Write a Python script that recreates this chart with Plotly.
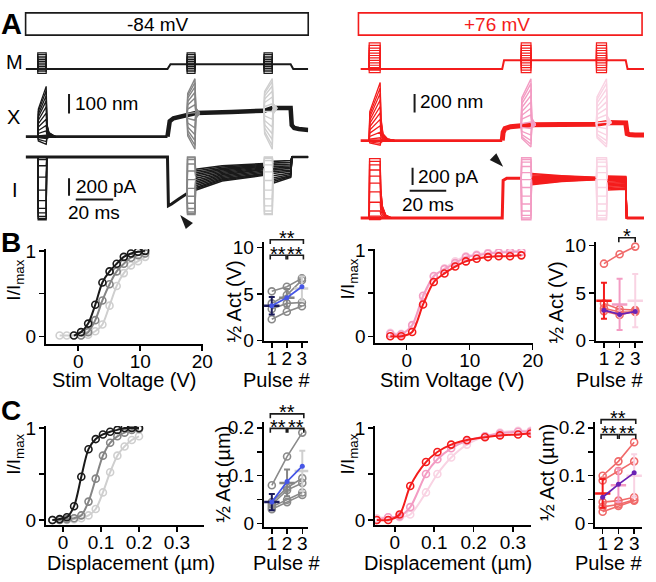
import plotly.graph_objects as go

W, H = 656, 582
def fx(px): return px / W
def fy(py): return 1 - py / H

BLACK = '#1a1a1a'; GRAY = '#858585'; LGRAY = '#cfcfcf'
RED = '#f41c1c'; PINK = '#f39cc3'; LPINK = '#f9d3e3'
BLUE = '#4656e6'; NAVY = '#1c1c5a'; PURPLE = '#6b22b4'; SALMON = '#f06a6a'
CELLGRAY = '#8a8a8a'
FONT = 'Liberation Sans, Arial, sans-serif'

# ================= Panel A data =================
# ---- left (-84 mV) ----
L_win = [(6.5, 11.0), (86.3, 90.5), (127.4, 131.8)]
L_stimV = [-3.0, -1.85, -0.7, 0.45, 1.6, 2.75, 3.9, 5.05, 6.2, 7.35, 8.5, 9.65, 10.8]
L_M_t = [0, 75.8, 77.4, 141.6, 143.0, 151]
L_M_v = [0, 0, 3.2, 3.2, 0, 0]
L_M_level = [0, 3.2, 3.2]

L_X_rest_t = [0, 75.8]
L_X_rest_v = [0, 0]
L_X_step_t = [75.8, 76.3, 77.0, 79.0, 83.0, 86.3, 90.9, 110.0, 127.4, 131.8, 136.0, 141.6, 142.2, 143.5, 146.0, 151.0]
L_X_step_v = [0, 55, 80, 95, 105, 110, 122, 128, 134, 148, 150, 148, 60, 45, 40, 35]
L_X_p1 = [-40, -25, -10, 8, 30, 58, 90, 122, 155, 185, 212, 238, 260]
L_X_p2 = [-65, -45, -20, 10, 45, 85, 125, 165, 200, 230, 258, 280, 300]
L_X_p3 = [-65, -45, -15, 15, 50, 90, 130, 170, 205, 235, 262, 285, 300]
L_X_lv = [(110, 122), (134, 148)]

L_I_t = [0, 75.8, 76.3, 78.0, 82.0, 86.3]
L_I_v = [0, 0, -560, -540, -480, -420]
L_I_p1 = [0, 0, -5, -30, -100, -230, -380, -500, -590, -640, -680, -705, -720]
L_I_p2 = [0, -10, -30, -80, -160, -260, -360, -450, -530, -590, -630, -650, -660]
L_I_p3 = [0, -5, -15, -40, -90, -170, -270, -380, -480, -560, -620, -650, -660]
L_I_f2s = [-140, -160, -180, -200, -220, -245, -270, -290, -310, -330, -350, -365, -380]
L_I_f2m = [-100, -115, -130, -145, -160, -175, -190, -205, -220, -235, -250, -262, -275]
L_I_f2e = [-75, -85, -95, -105, -115, -125, -135, -145, -160, -175, -190, -200, -210]
L_I_f3s = [-50, -70, -90, -110, -130, -150, -170, -190, -215, -240, -260, -280, -300]
L_I_f3e = [-40, -60, -80, -100, -115, -130, -150, -165, -185, -200, -215, -225, -235]

# ---- right (+76 mV) ----
R_win = [(4.8, 10.8), (87.9, 93.2), (129.0, 134.5)]
R_stimV = [-2.6, -0.87, 0.87, 2.6, 4.3, 6.0, 7.7, 9.4, 11.1, 12.9, 14.6, 16.4, 18.2]
R_M_t = [0, 77.5, 78.5, 145, 146, 155]
R_M_v = [0, 0, 6.1, 6.1, 0, 0]
R_M_level = [0, 6.1, 6.1]

R_X_rest_t = [0, 77.5]
R_X_rest_v = [0, 0]
R_X_step_t = [77.5, 78, 79, 82, 87.9, 93.6, 110, 129, 134.9, 140, 145, 145.8, 147, 150, 155]
R_X_step_v = [0, 90, 130, 150, 160, 172, 175, 178, 195, 195, 192, 75, 65, 60, 60]
R_X_p1 = [-50, -30, -10, 30, 90, 160, 230, 300, 370, 440, 510, 570, 630]
R_X_p2 = [-70, -40, 0, 60, 130, 200, 280, 350, 420, 490, 560, 620, 670]
R_X_p3 = [-70, -40, 0, 60, 130, 200, 280, 350, 420, 490, 560, 620, 670]
R_X_lv = [(160, 172), (178, 195)]

R_I_t = [0, 77.5, 78.0, 80.0, 87.9]
R_I_v = [0, 0, 430, 455, 455]
R_I_p1 = [-20, -10, 0, 20, 80, 180, 300, 400, 480, 550, 610, 650, 680]
R_I_p2 = [-20, 0, 30, 80, 160, 250, 350, 440, 520, 590, 640, 670, 690]
R_I_p3 = [-20, 0, 30, 80, 160, 250, 350, 440, 520, 590, 640, 670, 690]
R_I_f2s = [380, 390, 400, 410, 420, 430, 440, 450, 460, 470, 480, 495, 510]
R_I_f2m = [420, 425, 430, 435, 440, 445, 450, 455, 460, 465, 470, 478, 485]
R_I_f2e = [440, 442, 444, 446, 448, 450, 452, 454, 456, 458, 460, 462, 465]
R_I_f3s = [320, 335, 350, 365, 380, 395, 410, 425, 440, 450, 460, 470, 480]
R_I_f3e = [330, 345, 360, 375, 390, 405, 420, 435, 445, 455, 462, 470, 476]

# ================= Panel B data =================
B1_V = [-3.0, -1.85, -0.7, 0.45, 1.6, 2.75, 3.9, 5.05, 6.2, 7.35, 8.5, 9.65, 10.8]
B1_p1 = [None, None, 0.01, 0.05, 0.15, 0.37, 0.63, 0.76, 0.85, 0.93, 0.97, 0.99, 1.0]
B1_p2 = [None, None, None, 0.01, 0.05, 0.19, 0.42, 0.61, 0.76, 0.85, 0.92, 0.95, 0.97]
B1_p3 = [0.01, 0.01, 0.01, 0.01, 0.02, 0.06, 0.14, 0.36, 0.59, 0.74, 0.83, 0.88, 0.93]

PULSE = [1, 2, 3]
B2_cells = [[5.3, 5.8, 6.7], [4.0, 4.9, 6.5], [3.4, 4.0, 4.1], [2.3, 3.1, 3.7]]
B2_mean = [3.75, 4.6, 5.6]
B2_sd = [0.95, 0.95, 1.3]
B2_avg = [3.75, 4.6, 5.8]

B3_V = [-2.6, -0.87, 0.87, 2.6, 4.3, 6.0, 7.7, 9.4, 11.1, 12.9, 14.6, 16.4, 18.2]
B3_p1 = [0.0, 0.0, 0.05, 0.37, 0.63, 0.73, 0.81, 0.87, 0.9, 0.92, 0.93, 0.93, 0.94]
B3_p2 = [0.03, 0.02, 0.13, 0.47, 0.70, 0.78, 0.85, 0.92, 0.94, 0.96, 0.97, 0.98, 0.98]
B3_p3 = [0.04, 0.03, 0.12, 0.45, 0.69, 0.79, 0.87, 0.93, 0.95, 0.97, 0.98, 0.99, 0.99]

B4_cells = [[8.1, 9.1, 9.9], [3.9, 3.3, 3.2], [3.4, 3.0, 3.0], [3.1, 2.7, 3.1]]
B4_mean = [4.2, 3.8, 4.2]
B4_sd = [1.9, 2.7, 2.8]
B4_avg = [3.2, 2.75, 3.05]

# ================= Panel C data =================
C1_D = [-0.028, -0.009, 0.010, 0.029, 0.048, 0.067, 0.086, 0.105, 0.124, 0.143, 0.162, 0.181, 0.200]
C1_p1 = [0.0, 0.01, 0.03, 0.15, 0.47, 0.77, 0.88, 0.93, 0.96, 0.98, 1.0, 1.0, 1.0]
C1_p2 = [0.0, 0.0, 0.01, 0.02, 0.05, 0.2, 0.45, 0.7, 0.84, 0.91, 0.95, 0.98, 0.99]
C1_p3 = [0.0, 0.0, 0.0, 0.01, 0.02, 0.05, 0.12, 0.3, 0.52, 0.7, 0.8, 0.87, 0.91]

C2_cells = [[0.08, 0.14, 0.19], [0.045, 0.075, 0.095], [0.04, 0.07, 0.085], [0.035, 0.05, 0.065], [0.03, 0.045, 0.06]]
C2_mean = [0.045, 0.085, 0.11]
C2_sd = [0.017, 0.028, 0.042]
C2_avg = [0.045, 0.088, 0.12]

C3_D = [-0.046, -0.017, 0.012, 0.039, 0.079, 0.108, 0.143, 0.183, 0.229, 0.267, 0.313, 0.345]
C3_p1 = [0.0, 0.0, 0.06, 0.37, 0.63, 0.74, 0.82, 0.87, 0.9, 0.92, 0.93, 0.94]
C3_p2 = [0.0, 0.03, 0.04, 0.14, 0.5, 0.66, 0.78, 0.86, 0.91, 0.94, 0.96, 0.96]
C3_p3 = [0.02, 0.03, 0.03, 0.06, 0.3, 0.5, 0.68, 0.82, 0.91, 0.95, 0.97, 0.97]

C4_cells = [[0.1, 0.13, 0.17], [0.09, 0.11, 0.13], [0.045, 0.048, 0.055], [0.035, 0.04, 0.05], [0.025, 0.037, 0.048]]
C4_mean = [0.063, 0.08, 0.1]
C4_sd = [0.03, 0.035, 0.045]
C4_avg = [0.055, 0.082, 0.106]

# ================= figure =================
fig = go.Figure()
layout = dict(autosize=True, margin=dict(l=0, r=0, t=0, b=0, pad=0),
              paper_bgcolor='white', plot_bgcolor='rgba(0,0,0,0)', showlegend=False,
              font=dict(family=FONT, color='black', size=19))
shapes = []
annots = []

def xname(i): return 'xaxis' if i == 1 else 'xaxis%d' % i
def yname(i): return 'yaxis' if i == 1 else 'yaxis%d' % i
def xref(i): return 'x' if i == 1 else 'x%d' % i
def yref(i): return 'y' if i == 1 else 'y%d' % i

# hidden axes for panel A
layout[xname(1)] = dict(domain=[fx(26), fx(313)], range=[0, 151], visible=False)
layout[xname(2)] = dict(domain=[fx(366), fx(654)], range=[0, 155], visible=False)
def hy(i, top, bot, rng, xa):
    layout[yname(i)] = dict(domain=[fy(bot), fy(top)], range=rng, visible=False, anchor=xa)
hy(1, 34, 70, [-5.16, 18.06], 'x')
hy(2, 70, 148, [-80, 310], 'x')
hy(3, 145, 225, [-799, 88.8], 'x')
hy(4, 30, 70, [-5.41, 21.6], 'x2')
hy(5, 65, 150, [-147, 745.5], 'x2')
hy(6, 145, 225, [-99.9, 788], 'x2')

def vis(xi, yi, xd, yd, xr, yr, xtv, xtt, ytv, ytt, yminor):
    common = dict(showline=True, linecolor='black', linewidth=2, ticks='outside', ticklen=5,
                  tickwidth=1.5, tickcolor='black', showgrid=False, zeroline=False,
                  tickfont=dict(size=19, family=FONT, color='black'))
    layout[xname(xi)] = dict(domain=[fx(xd[0]), fx(xd[1])], range=xr, anchor=yref(yi),
                             tickvals=xtv, ticktext=xtt, ticklabelstandoff=-6, **common)
    layout[yname(yi)] = dict(domain=[fy(yd[1]), fy(yd[0])], range=yr, anchor=xref(xi),
                             tickvals=ytv, ticktext=ytt, ticklabelstandoff=-1,
                             minor=dict(tickvals=yminor, ticks='outside', ticklen=5, tickwidth=1.5,
                                        tickcolor='black', showgrid=False),
                             **common)

vis(3, 7, (46.7, 206), (248, 346), [-5.2, 20.1], [-0.085, 1.023], [0, 10, 20], ['0', '10', '20'], [0, 1], ['0', '1'], [0.5])
vis(4, 8, (267.7, 313), (241, 343.3), [0.46, 3.42], [-0.06, 10.6], [1, 2, 3], ['1', '2', '3'], [0, 5, 10], ['0', '5', '10'], [])
vis(5, 9, (381.3, 541.5), (248, 345), [-4.95, 20.08], [-0.075, 1.015], [0, 10, 20], ['0', '10', '20'], [0, 1], ['0', '1'], [0.5])
vis(6, 10, (605, 653), (241, 343.3), [0.476, 3.5], [-0.06, 10.37], [1, 2, 3], ['1', '2', '3'], [0, 5, 10], ['0', '5', '10'], [])
vis(7, 11, (46.7, 206.7), (431, 533.3), [-0.045, 0.37], [-0.053, 1.023], [0, 0.1, 0.2, 0.3], ['0', '0.1', '0.2', '0.3'], [0, 1], ['0', '1'], [0.5])
vis(8, 12, (268, 313), (427, 535), [0.48, 3.39], [-0.006, 0.212], [1, 2, 3], ['1', '2', '3'], [0, 0.1, 0.2], ['0', '0.1', '0.2'], [0.05, 0.15])
vis(9, 13, (381, 539.3), (431, 533.3), [-0.05, 0.346], [-0.053, 1.023], [0, 0.1, 0.2, 0.3], ['0', '0.1', '0.2', '0.3'], [0, 1], ['0', '1'], [0.5])
vis(10, 14, (604.3, 652), (427, 535), [0.52, 3.5], [-0.006, 0.212], [1, 2, 3], ['1', '2', '3'], [0, 0.1, 0.2], ['0', '0.1', '0.2'], [0.05, 0.15])

def line(xs, ys, xa, ya, color, width, mode='lines', shape='linear', **kw):
    fig.add_trace(go.Scatter(x=xs, y=ys, xaxis=xa, yaxis=ya, mode=mode,
                             line=dict(color=color, width=width, shape=shape),
                             hoverinfo='skip', **kw))

# ---------- Panel A builders ----------
def m_pulses(win, level, amps):
    xs, ys = [], []
    t0, t1 = win
    for a in amps:
        xs += [t0, t0, t1, t1, None]
        ys += [level, a, a, level, None]
    return xs, ys

def x_first(win, amps, dts, fr):
    xs, ys = [], []
    t0, t1 = win
    for a in amps:
        for (ref, d), f in zip(dts, fr):
            xs.append((t0 if ref == 0 else t1) + d)
            ys.append(f * a)
        xs.append(None); ys.append(None)
    return xs, ys

def x_later(win, amps, lv):
    xs, ys = [], []
    t0, t1 = win
    L, L2 = lv
    for a in amps:
        xs += [t0, t0 + 0.3, t1, t1 + 0.4, t1 + 2.5, None]
        ys += [L, L + 0.6 * (a - L), a, L2 + 0.15 * (a - L2), L2, None]
    return xs, ys

def i_box(win, starts, amps, ends):
    xs, ys = [], []
    t0, t1 = win
    for s, a, e in zip(starts, amps, ends):
        xs += [t0, t0 + 0.2, t1, t1 + 0.3, None]
        ys += [s, a, a, e, None]
    return xs, ys

def fans(seg_t, seg_vals):
    xs, ys = [], []
    n = len(seg_vals[0])
    for k in range(n):
        xs += list(seg_t) + [None]
        ys += [v[k] for v in seg_vals] + [None]
    return xs, ys

# ----- left A -----
line(L_M_t, L_M_v, 'x', 'y', BLACK, 2)
for w, lv in zip(L_win, L_M_level):
    xs, ys = m_pulses(w, lv, L_stimV)
    line(xs, ys, 'x', 'y', BLACK, 1.2)

line(L_X_rest_t, L_X_rest_v, 'x', 'y2', BLACK, 2.8)
line(L_X_step_t, L_X_step_v, 'x', 'y2', BLACK, 4.5)
xs, ys = x_first(L_win[0], L_X_p1, [(0, 0), (0, 0.3), (1, 0), (1, 0.4), (1, 1.5), (1, 5)], [0, 0.55, 1, 0.25, 0.08, 0])
line(xs, ys, 'x', 'y2', BLACK, 1.3)
xs, ys = x_later(L_win[1], L_X_p2, L_X_lv[0]); line(xs, ys, 'x', 'y2', GRAY, 1.4)
xs, ys = x_later(L_win[2], L_X_p3, L_X_lv[1]); line(xs, ys, 'x', 'y2', LGRAY, 1.4)

line(L_I_t, L_I_v, 'x', 'y3', BLACK, 3)
xs, ys = fans([90.8, 105, L_win[2][0]], [L_I_f2s, L_I_f2m, L_I_f2e]); line(xs, ys, 'x', 'y3', BLACK, 1.6)
zeros = [0] * len(L_I_f3s)
xs, ys = fans([132.1, 141.6, 142.3, 151], [L_I_f3s, L_I_f3e, zeros, zeros]); line(xs, ys, 'x', 'y3', BLACK, 1.6)
line([142.3, 151], [0, 0], 'x', 'y3', BLACK, 2.6)
xs, ys = i_box(L_win[0], zeros, L_I_p1, zeros); line(xs, ys, 'x', 'y3', BLACK, 1.3)
xs, ys = i_box(L_win[1], [L_I_v[-1]] * 13, L_I_p2, L_I_f2s); line(xs, ys, 'x', 'y3', GRAY, 1.4)
xs, ys = i_box(L_win[2], L_I_f2e, L_I_p3, L_I_f3s); line(xs, ys, 'x', 'y3', LGRAY, 1.4)
fig.add_trace(go.Scatter(x=[82.6], y=[-666], xaxis='x', yaxis='y3', mode='markers', cliponaxis=False,
                         marker=dict(symbol='arrow', size=15, angle=-40, color=BLACK), hoverinfo='skip'))

# ----- right A -----
line(R_M_t, R_M_v, 'x2', 'y4', RED, 2)
for w, lv in zip(R_win, R_M_level):
    xs, ys = m_pulses(w, lv, R_stimV)
    line(xs, ys, 'x2', 'y4', RED, 1.2)

line(R_X_rest_t, R_X_rest_v, 'x2', 'y5', RED, 2.8)
line(R_X_step_t, R_X_step_v, 'x2', 'y5', RED, 5)
xs, ys = x_first(R_win[0], R_X_p1, [(0, 0), (0, 0.3), (1, 0), (1, 0.4), (1, 1.5), (1, 4), (1, 8)], [0, 0.5, 1, 0.4, 0.12, 0.03, 0])
line(xs, ys, 'x2', 'y5', RED, 1.3)
xs, ys = x_later(R_win[1], R_X_p2, R_X_lv[0]); line(xs, ys, 'x2', 'y5', PINK, 1.4)
xs, ys = x_later(R_win[2], R_X_p3, R_X_lv[1]); line(xs, ys, 'x2', 'y5', LPINK, 1.4)

line(R_I_t, R_I_v, 'x2', 'y6', RED, 3)
xs, ys = fans([93.5, 110, R_win[2][0]], [R_I_f2s, R_I_f2m, R_I_f2e]); line(xs, ys, 'x2', 'y6', RED, 1.6)
zr = [0] * len(R_I_f3s)
xs, ys = fans([134.8, 145, 145.5, 155], [R_I_f3s, R_I_f3e, zr, zr]); line(xs, ys, 'x2', 'y6', RED, 1.6)
line([145.5, 155], [0, 0], 'x2', 'y6', RED, 3)
xs, ys = x_first(R_win[0], R_I_p1, [(0, 0), (0, 0.2), (1, 0), (1, 0.3), (1, 1.2), (1, 3), (1, 6)], [0, 1, 1, 0.5, 0.2, 0.05, 0])
line(xs, ys, 'x2', 'y6', RED, 1.3)
xs, ys = i_box(R_win[1], [R_I_v[-1]] * 13, R_I_p2, R_I_f2s); line(xs, ys, 'x2', 'y6', PINK, 1.4)
xs, ys = i_box(R_win[2], R_I_f2e, R_I_p3, R_I_f3s); line(xs, ys, 'x2', 'y6', LPINK, 1.4)
fig.add_trace(go.Scatter(x=[78], y=[588], xaxis='x2', yaxis='y6', mode='markers', cliponaxis=False,
                         marker=dict(symbol='arrow', size=15, angle=135, color=BLACK), hoverinfo='skip'))

# scale bars (axis-referenced)
def sbar(xa, ya, x0, y0, x1, y1):
    shapes.append(dict(type='line', xref=xa, yref=ya, x0=x0, y0=y0, x1=x1, y1=y1,
                       line=dict(color=BLACK, width=2)))
sbar('x', 'y2', 23.2, 120, 23.2, 220)
sbar('x', 'y3', 23.2, -444, 23.2, -244)
sbar('x', 'y3', 26.8, -488, 46.8, -488)
sbar('x2', 'y5', 29.6, 305, 29.6, 505)
sbar('x2', 'y6', 28.5, 377, 28.5, 577)
sbar('x2', 'y6', 26.9, 311, 46.9, 311)

def ann(text, x, y, xr='paper', yr='paper', size=19, xanchor='center', yanchor='middle', color='black', angle=0, bold=False):
    annots.append(dict(text=('<b>%s</b>' % text) if bold else text, x=x, y=y, xref=xr, yref=yr,
                       showarrow=False, xanchor=xanchor, yanchor=yanchor, textangle=angle,
                       font=dict(size=size, color=color, family=FONT)))

ann('100 nm', 25.3, 170, 'x', 'y2', xanchor='left')
ann('200 pA', 25.8, -344, 'x', 'y3', xanchor='left')
ann('20 ms', 36.8, -633, 'x', 'y3')
ann('200 nm', 31.2, 420, 'x2', 'y5', xanchor='left')
ann('200 pA', 30.5, 477, 'x2', 'y6', xanchor='left')
ann('20 ms', 36.9, 155, 'x2', 'y6')

# ---------- Panel B/C ----------
def curve(xs, ys, xa, ya, color):
    fig.add_trace(go.Scatter(x=xs, y=ys, xaxis=xa, yaxis=ya, mode='lines+markers',
                             line=dict(color=color, width=2, shape='spline', smoothing=0.8),
                             marker=dict(symbol='circle-open', size=7, color=color, line=dict(width=1.6)),
                             hoverinfo='skip', connectgaps=False))

curve(B1_V, B1_p3, 'x3', 'y7', LGRAY)
curve(B1_V, B1_p2, 'x3', 'y7', GRAY)
curve(B1_V, B1_p1, 'x3', 'y7', BLACK)
curve(B3_V, B3_p3, 'x5', 'y9', LPINK)
curve(B3_V, B3_p2, 'x5', 'y9', PINK)
curve(B3_V, B3_p1, 'x5', 'y9', RED)
curve(C1_D, C1_p3, 'x7', 'y11', LGRAY)
curve(C1_D, C1_p2, 'x7', 'y11', GRAY)
curve(C1_D, C1_p1, 'x7', 'y11', BLACK)
curve(C3_D, C3_p3, 'x9', 'y13', LPINK)
curve(C3_D, C3_p2, 'x9', 'y13', PINK)
curve(C3_D, C3_p1, 'x9', 'y13', RED)

def summary(xa, ya, cells, cellc, avg, avgc, mean, sd, mcols):
    for c in cells:
        fig.add_trace(go.Scatter(x=PULSE, y=c, xaxis=xa, yaxis=ya, mode='lines+markers',
                                 line=dict(color=cellc, width=1.6),
                                 marker=dict(symbol='circle-open', size=7, color=cellc, line=dict(width=1.6)),
                                 hoverinfo='skip'))
    for p, m, s, col in zip(PULSE, mean, sd, mcols):
        fig.add_trace(go.Scatter(x=[p], y=[m], xaxis=xa, yaxis=ya, mode='markers',
                                 marker=dict(symbol='line-ew', size=11, color=col, line=dict(width=2.5, color=col)),
                                 error_y=dict(type='data', array=[s], visible=True, color=col, thickness=2, width=3),
                                 hoverinfo='skip'))
    fig.add_trace(go.Scatter(x=PULSE, y=avg, xaxis=xa, yaxis=ya, mode='lines+markers',
                             line=dict(color=avgc, width=1.8),
                             marker=dict(symbol='circle', size=5, color=avgc),
                             hoverinfo='skip'))

summary('x4', 'y8', B2_cells, CELLGRAY, B2_avg, BLUE, B2_mean, B2_sd, [NAVY, GRAY, LGRAY])
summary('x6', 'y10', B4_cells, SALMON, B4_avg, PURPLE, B4_mean, B4_sd, [RED, PINK, LPINK])
summary('x8', 'y12', C2_cells, CELLGRAY, C2_avg, BLUE, C2_mean, C2_sd, [NAVY, GRAY, LGRAY])
summary('x10', 'y14', C4_cells, SALMON, C4_avg, PURPLE, C4_mean, C4_sd, [RED, PINK, LPINK])

# significance brackets
def bracket(xa, x0, x1, py, stars):
    shapes.append(dict(type='path', xref=xa, yref='paper',
                       path='M %g,%g L %g,%g L %g,%g L %g,%g' % (x0, fy(py + 4.5), x0, fy(py), x1, fy(py), x1, fy(py + 4.5)),
                       line=dict(color=BLACK, width=1.6)))
    ann(stars, (x0 + x1) / 2, fy(py - 1.5), xa, 'paper', size=20, yanchor='middle')

bracket('x4', 0.9, 3.1, 238.5, '**')
bracket('x4', 0.9, 1.95, 254.5, '**')
bracket('x4', 2.05, 3.1, 254.5, '**')
bracket('x6', 1.95, 3.0, 236.5, '*')
bracket('x8', 0.9, 3.1, 418.5, '**')
bracket('x8', 0.9, 1.95, 433.5, '**')
bracket('x8', 2.05, 3.1, 433.5, '**')
bracket('x10', 0.9, 3.1, 424.5, '**')
bracket('x10', 0.9, 1.95, 440, '**')
bracket('x10', 2.05, 3.1, 440, '**')

# voltage boxes
shapes.append(dict(type='rect', xref='paper', yref='paper', x0=fx(26), x1=fx(313), y0=fy(27), y1=fy(4),
                   line=dict(color=BLACK, width=1.6)))
shapes.append(dict(type='rect', xref='paper', yref='paper', x0=fx(364), x1=fx(652), y0=fy(27), y1=fy(4),
                   line=dict(color=RED, width=1.6)))
ann('-84 mV', fx(160), fy(16), size=19)
ann('+76 mV', fx(505), fy(16), size=19, color=RED)

# panel letters and row labels
ann('A', fx(12), fy(15), size=29, bold=True)
ann('B', fx(11), fy(241), size=28, bold=True)
ann('C', fx(11), fy(415), size=28, bold=True)
ann('M', fx(15), fy(55), size=20)
ann('X', fx(14), fy(112), size=20)
ann('I', fx(15), fy(187), size=20)

# axis titles
IIMAX = 'I/I<sub>max</sub>'
ann(IIMAX, fx(15), fy(280), angle=-90, size=19)
ann('Stim Voltage (V)', fx(126), fy(384), size=20)
ann('½ Act (V)', fx(238), fy(302), angle=-90, size=20)
ann('Pulse #', fx(281), fy(384), size=20)
ann(IIMAX, fx(354), fy(279), angle=-90, size=19)
ann('Stim Voltage (V)', fx(460), fy(384), size=20)
ann('½ Act (V)', fx(565), fy(303), angle=-90, size=20)
ann('Pulse #', fx(619), fy(384), size=20)
ann(IIMAX, fx(15), fy(460), angle=-90, size=19)
ann('Displacement (µm)', fx(133), fy(573), size=20)
ann('½ Act (µm)', fx(227), fy(481), angle=-90, size=20)
ann('Pulse #', fx(291), fy(573), size=20)
ann(IIMAX, fx(354), fy(460), angle=-90, size=19)
ann('Displacement (µm)', fx(455), fy(573), size=20)
ann('½ Act (µm)', fx(556), fy(479), angle=-90, size=20)
ann('Pulse #', fx(618), fy(573), size=20)

layout['shapes'] = shapes
layout['annotations'] = annots
fig.update_layout(**layout)
POST = ("var d=document.getElementById('{plot_id}');"
        "document.documentElement.style.margin='0';document.documentElement.style.padding='0';"
        "document.body.style.margin='0';document.body.style.padding='0';"
        "document.body.style.overflow='hidden';document.documentElement.style.overflow='hidden';"
        "d.style.position='fixed';d.style.left='0px';d.style.top='0px';"
        "d.style.width='100vw';d.style.height='100vh';"
        "Plotly.Plots.resize(d);")
fig.write_html('out.html', default_width='100%', default_height='100%',
               config={'displayModeBar': False, 'staticPlot': True, 'responsive': True},
               post_script=POST)
